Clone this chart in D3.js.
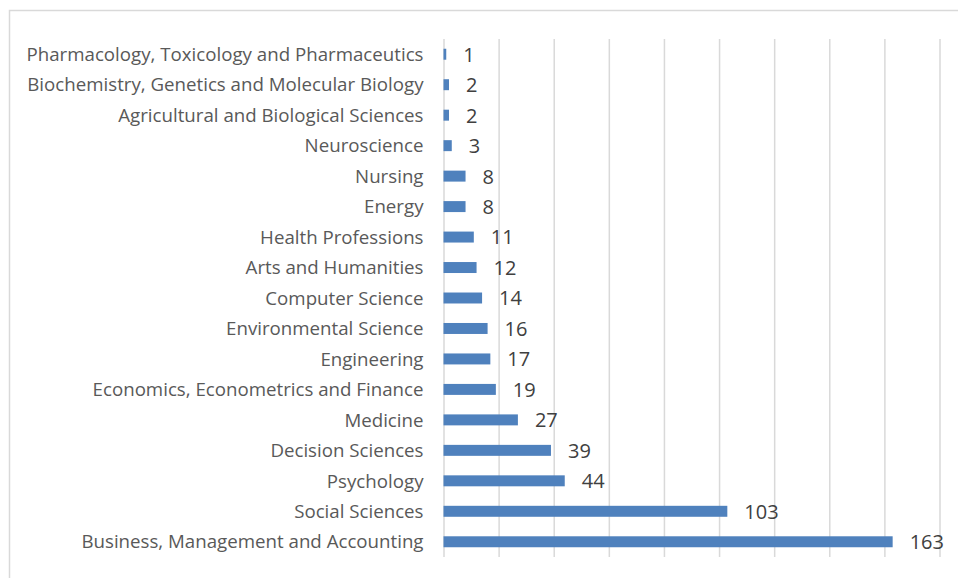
<!DOCTYPE html>
<html>
<head>
<meta charset="utf-8">
<script src="https://cdn.jsdelivr.net/npm/d3@7"></script>
<style>
  body { margin: 0; background: #fff; }
  svg { display: block; font-family: "Open Sans", sans-serif; }
</style>
</head>
<body>
<script>
const categories = [
  "Pharmacology, Toxicology and Pharmaceutics",
  "Biochemistry, Genetics and Molecular Biology",
  "Agricultural and Biological Sciences",
  "Neuroscience",
  "Nursing",
  "Energy",
  "Health Professions",
  "Arts and Humanities",
  "Computer Science",
  "Environmental Science",
  "Engineering",
  "Economics, Econometrics and Finance",
  "Medicine",
  "Decision Sciences",
  "Psychology",
  "Social Sciences",
  "Business, Management and Accounting"
];
const counts = [1, 2, 2, 3, 8, 8, 11, 12, 14, 16, 17, 19, 27, 39, 44, 103, 163];
const xTicks = [0, 20, 40, 60, 80, 100, 120, 140, 160, 180];

const W = 958, H = 578;
const plot = { left: 443.5, right: 939.5, top: 39, bottom: 557 };

const svg = d3.select("body").append("svg")
    .attr("width", W)
    .attr("height", H);

// chart frame (only top/left edges are visible in the crop)
svg.append("rect")
    .attr("x", 9.5).attr("y", 10.5)
    .attr("width", 1000).attr("height", 700)
    .attr("fill", "none")
    .attr("stroke", "#d9d9d9")
    .attr("stroke-width", 1.5);

const x = d3.scaleLinear()
    .domain([0, 180])
    .range([plot.left, plot.right]);

const y = d3.scaleBand()
    .domain(categories)
    .range([plot.top, plot.bottom])
    .paddingInner(0.64)
    .paddingOuter(0.32);

// vertical gridlines
svg.append("g")
    .attr("transform", "translate(0," + plot.bottom + ")")
    .call(d3.axisBottom(x).tickValues(xTicks).tickSize(-(plot.bottom - plot.top)).tickFormat(""))
    .call(g => g.select(".domain").remove())
    .call(g => g.selectAll("line").attr("stroke", "#d9d9d9").attr("stroke-width", 1.5));

// category axis
svg.append("g")
    .attr("transform", "translate(" + plot.left + ",0)")
    .call(d3.axisLeft(y).tickSize(0).tickPadding(20))
    .attr("font-family", null)
    .attr("font-size", null)
    .call(g => g.select(".domain").remove())
    .call(g => g.selectAll("text")
        .attr("fill", "#595959")
        .attr("dy", "0.36em")
        .style("font-family", "'Open Sans', sans-serif")
        .style("font-size", "18.7px"));

const data = categories.map((c, i) => ({ cat: c, n: counts[i] }));

svg.selectAll(".bar")
    .data(data)
  .enter().append("rect")
    .attr("class", "bar")
    .attr("x", x(0))
    .attr("y", d => y(d.cat))
    .attr("width", d => x(d.n) - x(0))
    .attr("height", y.bandwidth())
    .attr("fill", "#4f81bd");

// value labels
svg.selectAll(".val")
    .data(data)
  .enter().append("text")
    .attr("class", "val")
    .attr("x", d => x(d.n) + 17)
    .attr("y", d => y(d.cat) + y.bandwidth() / 2)
    .attr("dy", "0.37em")
    .attr("fill", "#404040")
    .style("font-size", "20px")
    .text(d => d.n);
</script>
</body>
</html>
